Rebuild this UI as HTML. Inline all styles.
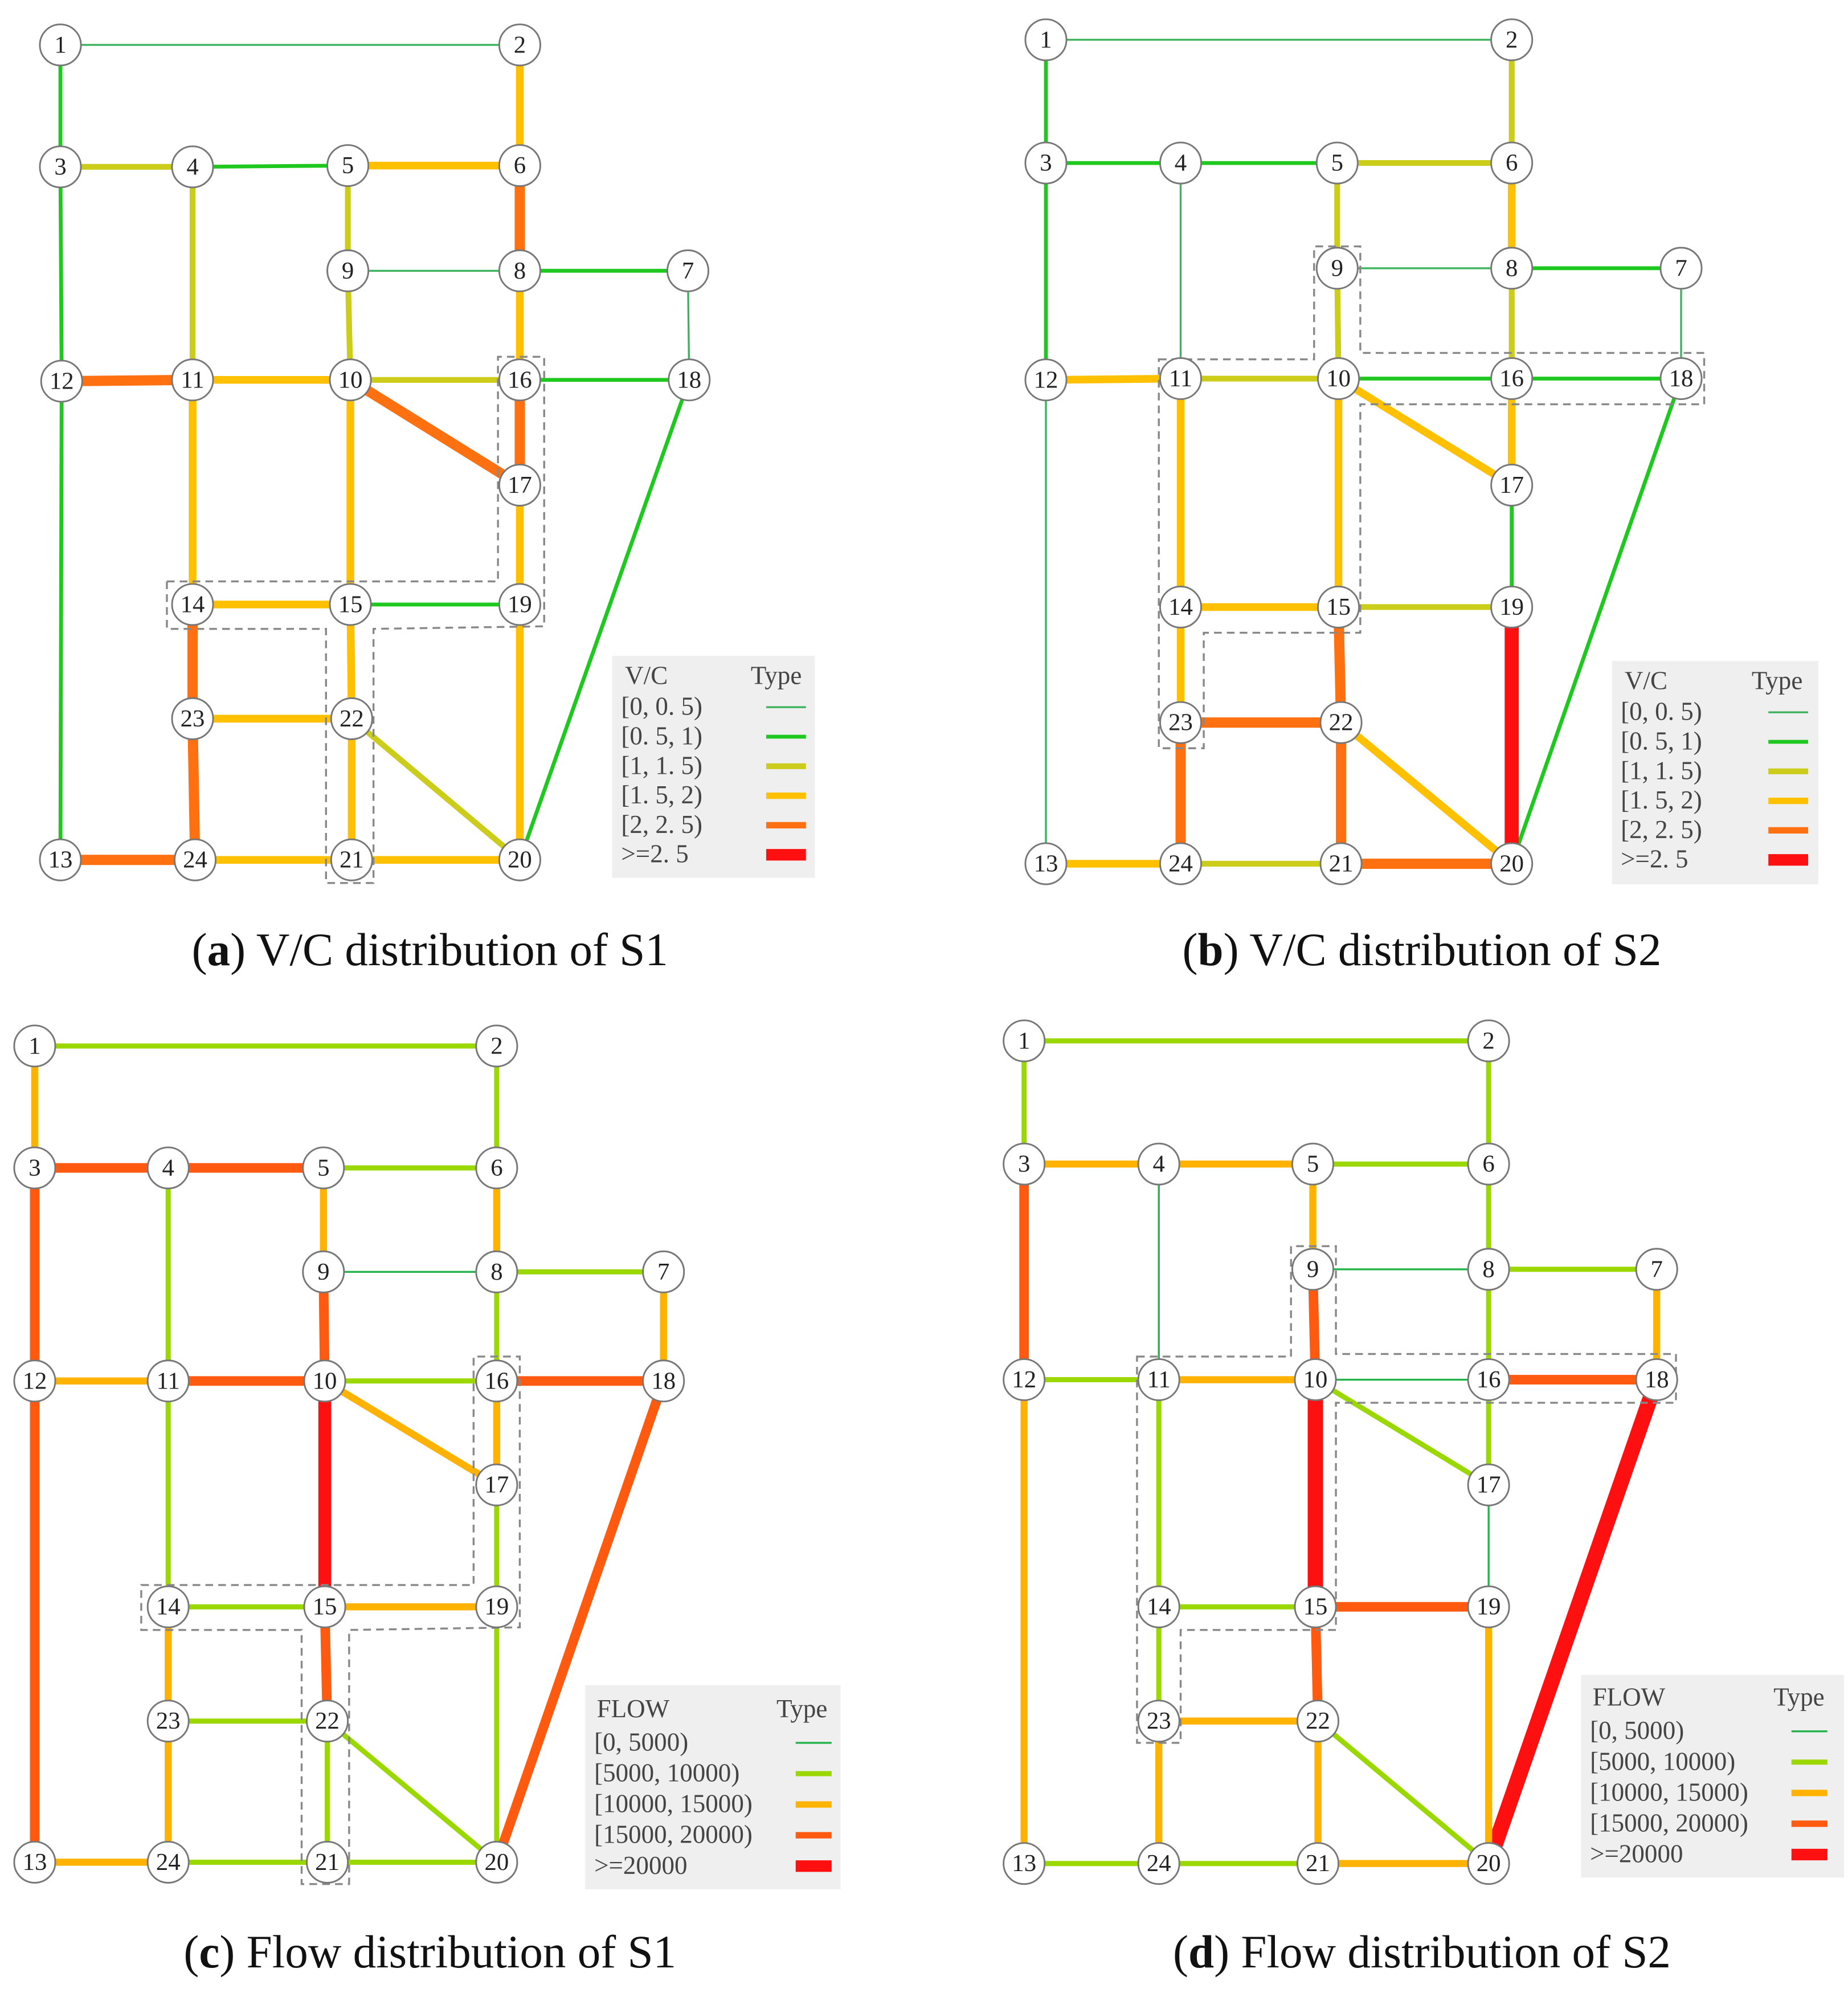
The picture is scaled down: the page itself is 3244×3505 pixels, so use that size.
<!DOCTYPE html>
<html><head><meta charset="utf-8"><style>
html,body{margin:0;padding:0;background:#fff}
svg{display:block}
.n{font-family:"Liberation Serif",serif;font-size:19px;fill:#222;text-anchor:middle;dominant-baseline:central}
.lg{font-family:"Liberation Serif",serif;font-size:20px;fill:#444}
.cap{font-family:"Liberation Serif",serif;font-size:36px;fill:#111;text-anchor:middle}
</style></head><body>
<svg id="s" width="3244" height="3505" viewBox="0 0 1440 1556" xmlns="http://www.w3.org/2000/svg">
<rect width="1440" height="1556" fill="#fff"/>
<g id="edges"></g>
<g fill="none" stroke="#888" stroke-width="1.5" stroke-dasharray="6,4">
<polygon points="130,453 388,453 388,278 424,278 424,488 291,490 291,688 254,688 254,490 130,490"/>
<polygon points="903,280 1024,280 1024,192 1060,192 1060,275 1328,275 1328,315 1060,315 1060,493 938,493 938,583 903,583"/>
<polygon points="110,1235 369,1235 369,1057 405,1057 405,1268 272,1270 272,1468 235,1468 235,1270 110,1270"/>
<polygon points="886,1057 1006,1057 1006,971 1041,971 1041,1055 1306,1055 1306,1093 1041,1093 1041,1270 920,1270 920,1358 886,1358"/>
</g>
<g id="nodes"></g>
<rect x="477" y="511" width="158" height="173" fill="#efefef"/>
<text class="lg" x="487" y="533">V/C</text><text class="lg" x="585" y="533">Type</text>
<text class="lg" x="484" y="557">[0, 0. 5)</text><text class="lg" x="484" y="580">[0. 5, 1)</text><text class="lg" x="484" y="603">[1, 1. 5)</text><text class="lg" x="484" y="626">[1. 5, 2)</text><text class="lg" x="484" y="649">[2, 2. 5)</text><text class="lg" x="484" y="672">&gt;=2. 5</text>
<rect x="1256" y="515" width="161" height="174" fill="#efefef"/>
<text class="lg" x="1266" y="537">V/C</text><text class="lg" x="1365" y="537">Type</text>
<text class="lg" x="1263" y="561">[0, 0. 5)</text><text class="lg" x="1263" y="584">[0. 5, 1)</text><text class="lg" x="1263" y="607">[1, 1. 5)</text><text class="lg" x="1263" y="630">[1. 5, 2)</text><text class="lg" x="1263" y="653">[2, 2. 5)</text><text class="lg" x="1263" y="676">&gt;=2. 5</text>
<rect x="456" y="1313" width="199" height="159" fill="#efefef"/>
<text class="lg" x="465" y="1338">FLOW</text><text class="lg" x="605" y="1338">Type</text>
<text class="lg" x="463" y="1364">[0, 5000)</text><text class="lg" x="463" y="1388">[5000, 10000)</text><text class="lg" x="463" y="1412">[10000, 15000)</text><text class="lg" x="463" y="1436">[15000, 20000)</text><text class="lg" x="463" y="1460">&gt;=20000</text>
<rect x="1232" y="1305" width="205" height="158" fill="#efefef"/>
<text class="lg" x="1241" y="1329">FLOW</text><text class="lg" x="1382" y="1329">Type</text>
<text class="lg" x="1239" y="1355">[0, 5000)</text><text class="lg" x="1239" y="1379">[5000, 10000)</text><text class="lg" x="1239" y="1403">[10000, 15000)</text><text class="lg" x="1239" y="1427">[15000, 20000)</text><text class="lg" x="1239" y="1451">&gt;=20000</text>
<g id="leg"></g>
<text class="cap" x="335" y="752">(<tspan font-weight="bold">a</tspan>) V/C distribution of S1</text>
<text class="cap" x="1108" y="752">(<tspan font-weight="bold">b</tspan>) V/C distribution of S2</text>
<text class="cap" x="335" y="1533">(<tspan font-weight="bold">c</tspan>) Flow distribution of S1</text>
<text class="cap" x="1108" y="1533">(<tspan font-weight="bold">d</tspan>) Flow distribution of S2</text>
<g>
<text class="n" x="47" y="35">1</text><text class="n" x="405" y="35">2</text><text class="n" x="47" y="130">3</text><text class="n" x="150" y="130">4</text><text class="n" x="271" y="129">5</text><text class="n" x="405" y="129">6</text><text class="n" x="271" y="211">9</text><text class="n" x="405" y="211">8</text><text class="n" x="536" y="211">7</text><text class="n" x="48" y="297">12</text><text class="n" x="150" y="296">11</text><text class="n" x="273" y="296">10</text><text class="n" x="405" y="296">16</text><text class="n" x="537" y="296">18</text><text class="n" x="405" y="378">17</text><text class="n" x="150" y="471">14</text><text class="n" x="273" y="471">15</text><text class="n" x="405" y="471">19</text><text class="n" x="150" y="560">23</text><text class="n" x="274" y="560">22</text><text class="n" x="47" y="670">13</text><text class="n" x="152" y="670">24</text><text class="n" x="274" y="670">21</text><text class="n" x="405" y="670">20</text>
<text class="n" x="815" y="31">1</text><text class="n" x="1178" y="31">2</text><text class="n" x="815" y="127">3</text><text class="n" x="920" y="127">4</text><text class="n" x="1042" y="127">5</text><text class="n" x="1178" y="127">6</text><text class="n" x="1042" y="209">9</text><text class="n" x="1178" y="209">8</text><text class="n" x="1310" y="209">7</text><text class="n" x="815" y="296">12</text><text class="n" x="920" y="295">11</text><text class="n" x="1043" y="295">10</text><text class="n" x="1178" y="295">16</text><text class="n" x="1310" y="295">18</text><text class="n" x="1178" y="378">17</text><text class="n" x="920" y="473">14</text><text class="n" x="1043" y="473">15</text><text class="n" x="1178" y="473">19</text><text class="n" x="920" y="563">23</text><text class="n" x="1045" y="563">22</text><text class="n" x="815" y="673">13</text><text class="n" x="920" y="673">24</text><text class="n" x="1045" y="673">21</text><text class="n" x="1178" y="673">20</text>
<text class="n" x="27" y="815">1</text><text class="n" x="387" y="815">2</text><text class="n" x="27" y="910">3</text><text class="n" x="131" y="910">4</text><text class="n" x="252" y="910">5</text><text class="n" x="387" y="910">6</text><text class="n" x="252" y="991">9</text><text class="n" x="387" y="991">8</text><text class="n" x="517" y="991">7</text><text class="n" x="27" y="1076">12</text><text class="n" x="131" y="1076">11</text><text class="n" x="253" y="1076">10</text><text class="n" x="387" y="1076">16</text><text class="n" x="517" y="1076">18</text><text class="n" x="387" y="1157">17</text><text class="n" x="131" y="1252">14</text><text class="n" x="253" y="1252">15</text><text class="n" x="387" y="1252">19</text><text class="n" x="131" y="1341">23</text><text class="n" x="255" y="1341">22</text><text class="n" x="27" y="1451">13</text><text class="n" x="131" y="1451">24</text><text class="n" x="255" y="1451">21</text><text class="n" x="387" y="1451">20</text>
<text class="n" x="798" y="811">1</text><text class="n" x="1160" y="811">2</text><text class="n" x="798" y="907">3</text><text class="n" x="903" y="907">4</text><text class="n" x="1023" y="907">5</text><text class="n" x="1160" y="907">6</text><text class="n" x="1023" y="989">9</text><text class="n" x="1160" y="989">8</text><text class="n" x="1291" y="989">7</text><text class="n" x="798" y="1075">12</text><text class="n" x="903" y="1075">11</text><text class="n" x="1025" y="1075">10</text><text class="n" x="1160" y="1075">16</text><text class="n" x="1291" y="1075">18</text><text class="n" x="1160" y="1157">17</text><text class="n" x="903" y="1252">14</text><text class="n" x="1025" y="1252">15</text><text class="n" x="1160" y="1252">19</text><text class="n" x="903" y="1341">23</text><text class="n" x="1027" y="1341">22</text><text class="n" x="798" y="1452">13</text><text class="n" x="903" y="1452">24</text><text class="n" x="1027" y="1452">21</text><text class="n" x="1160" y="1452">20</text>
</g>
</svg>
<script>
var NS="http://www.w3.org/2000/svg";
var P={
a:{1:[47,35],2:[405,35],3:[47,130],4:[150,130],5:[271,129],6:[405,129],9:[271,211],8:[405,211],7:[536,211],12:[48,297],11:[150,296],10:[273,296],16:[405,296],18:[537,296],17:[405,378],14:[150,471],15:[273,471],19:[405,471],23:[150,560],22:[274,560],13:[47,670],24:[152,670],21:[274,670],20:[405,670]},
b:{1:[815,31],2:[1178,31],3:[815,127],4:[920,127],5:[1042,127],6:[1178,127],9:[1042,209],8:[1178,209],7:[1310,209],12:[815,296],11:[920,295],10:[1043,295],16:[1178,295],18:[1310,295],17:[1178,378],14:[920,473],15:[1043,473],19:[1178,473],23:[920,563],22:[1045,563],13:[815,673],24:[920,673],21:[1045,673],20:[1178,673]},
c:{1:[27,815],2:[387,815],3:[27,910],4:[131,910],5:[252,910],6:[387,910],9:[252,991],8:[387,991],7:[517,991],12:[27,1076],11:[131,1076],10:[253,1076],16:[387,1076],18:[517,1076],17:[387,1157],14:[131,1252],15:[253,1252],19:[387,1252],23:[131,1341],22:[255,1341],13:[27,1451],24:[131,1451],21:[255,1451],20:[387,1451]},
d:{1:[798,811],2:[1160,811],3:[798,907],4:[903,907],5:[1023,907],6:[1160,907],9:[1023,989],8:[1160,989],7:[1291,989],12:[798,1075],11:[903,1075],10:[1025,1075],16:[1160,1075],18:[1291,1075],17:[1160,1157],14:[903,1252],15:[1025,1252],19:[1160,1252],23:[903,1341],22:[1027,1341],13:[798,1452],24:[903,1452],21:[1027,1452],20:[1160,1452]}};
var VC=[null,["#3cb35c",1.5],["#1ec81e",3],["#cccc1a",4.5],["#ffc000",6],["#ff7010",8],["#ff1010",11]];
var FL=[null,["#22b44a",1.5],["#9bd800",4],["#ffb300",5.5],["#ff5a10",7.5],["#ff1010",10]];
var E={
a:"1-2:1,1-3:2,2-6:4,3-4:3,4-5:2,5-6:4,3-12:2,4-11:3,5-9:3,6-8:5,9-8:1,8-7:2,9-10:3,8-16:4,7-18:1,12-11:5,11-10:4,10-16:3,16-18:2,12-13:2,11-14:4,10-15:4,10-17:5,16-17:5,18-20:2,17-19:4,14-15:4,15-19:2,19-20:4,14-23:5,15-22:4,23-22:4,22-20:3,23-24:5,22-21:4,13-24:5,24-21:4,21-20:4",
b:"1-2:1,1-3:2,2-6:3,3-4:2,4-5:2,5-6:3,3-12:2,4-11:1,5-9:3,6-8:4,9-8:1,8-7:2,9-10:3,8-16:3,7-18:1,12-11:4,11-10:3,10-16:2,16-18:2,12-13:1,11-14:4,10-15:4,10-17:4,16-17:4,18-20:2,17-19:2,14-15:4,15-19:3,19-20:6,14-23:4,15-22:5,23-22:5,22-20:4,23-24:5,22-21:5,13-24:4,24-21:3,21-20:5",
c:"1-2:2,1-3:3,2-6:2,3-4:4,4-5:4,5-6:2,3-12:4,4-11:2,5-9:3,6-8:3,9-8:1,8-7:2,9-10:4,8-16:2,7-18:3,12-11:3,11-10:4,10-16:2,16-18:4,12-13:4,11-14:2,10-15:5,10-17:3,16-17:3,18-20:4,17-19:2,14-15:2,15-19:3,19-20:2,14-23:3,15-22:4,23-22:2,22-20:2,23-24:3,22-21:2,13-24:3,24-21:2,21-20:2",
d:"1-2:2,1-3:2,2-6:2,3-4:3,4-5:3,5-6:2,3-12:4,4-11:1,5-9:3,6-8:2,9-8:1,8-7:2,9-10:4,8-16:2,7-18:3,12-11:2,11-10:3,10-16:1,16-18:4,12-13:3,11-14:2,10-15:5,10-17:2,16-17:2,18-20:5,17-19:1,14-15:2,15-19:4,19-20:3,14-23:2,15-22:4,23-22:3,22-20:2,23-24:3,22-21:3,13-24:2,24-21:2,21-20:3"};
function el(t,a,p){var e=document.createElementNS(NS,t);for(var k in a)e.setAttribute(k,a[k]);p.appendChild(e);return e;}
var ge=document.getElementById("edges"),gn=document.getElementById("nodes"),gl=document.getElementById("leg");
for(var k in E){var pal=(k=="a"||k=="b")?VC:FL;var big=(k=="d"?1.2:1);
E[k].split(",").forEach(function(s){var q=s.split(":"),ab=q[0].split("-"),l=+q[1];var A=P[k][ab[0]],B=P[k][ab[1]];var c=pal[l];
el("line",{x1:A[0],y1:A[1],x2:B[0],y2:B[1],stroke:c[0],"stroke-width":c[1]*(l==pal.length-1?big:1)},ge);});
for(var n in P[k]){el("circle",{cx:P[k][n][0],cy:P[k][n][1],r:16,fill:"#fff",stroke:"#777","stroke-width":1.3},gn);}}
function leg(x1,x2,ys,pal){ys.forEach(function(y,i){var c=pal[i+1];el("line",{x1:x1,y1:y,x2:x2,y2:y,stroke:c[0],"stroke-width":i==ys.length-1?9:Math.min(c[1],5)},gl);});}
leg(597,628,[551,574,597,620,643,666],VC);
leg(1378,1409,[555,578,601,624,647,670],VC);
leg(620,648,[1358,1382,1406,1430,1454],FL);
leg(1396,1424,[1349,1373,1397,1421,1445],FL);
</script>
</body></html>
